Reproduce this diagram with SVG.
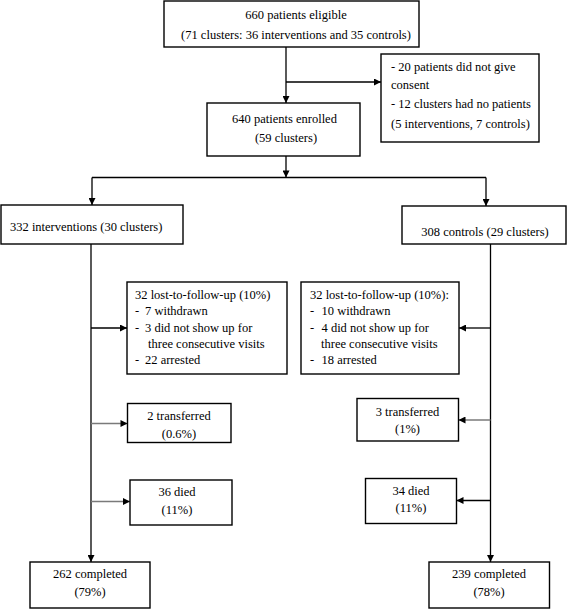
<svg xmlns="http://www.w3.org/2000/svg" width="567" height="609" viewBox="0 0 567 609">
<style>
.box{fill:#fff;stroke:#000;stroke-width:1.4}
.t{font-family:"Liberation Serif","Times New Roman",serif;font-size:12.5px;fill:#000}
.c{text-anchor:middle}
.ln{fill:none;stroke:#000;stroke-width:1.3}
.gr{stroke:#7a7a7a}
</style>
<defs>
<marker id="ah" viewBox="0 0 10 10" refX="10" refY="5" markerWidth="8" markerHeight="7" markerUnits="userSpaceOnUse" orient="auto">
<path d="M0,0 L10,5 L0,10 Z" fill="#000"/>
</marker>
</defs>
<rect width="567" height="609" fill="#fff"/>
<g id="connectors">
<path class="ln" d="M286,47 V103" marker-end="url(#ah)"/>
<path class="ln" d="M286,82 H381" marker-end="url(#ah)"/>
<path class="ln" d="M286,156 V177.5" marker-end="url(#ah)"/>
<path class="ln" d="M92,177.5 H486"/>
<path class="ln" d="M92,177.5 V205" marker-end="url(#ah)"/>
<path class="ln" d="M486,177.5 V206" marker-end="url(#ah)"/>
<path class="ln" d="M91,244 V562" marker-end="url(#ah)"/>
<path class="ln" d="M490.5,244 V562" marker-end="url(#ah)"/>
<path class="ln" d="M91,328 H127" marker-end="url(#ah)"/>
<path class="ln" d="M490.5,328 H459" marker-end="url(#ah)"/>
<path class="ln gr" d="M91,423.5 H127.5" marker-end="url(#ah)"/>
<path class="ln gr" d="M91,501.5 H130" marker-end="url(#ah)"/>
<path class="ln gr" d="M490.5,420 H458.5" marker-end="url(#ah)"/>
<path class="ln" d="M490.5,500.5 H456.5" marker-end="url(#ah)"/>
</g>
<g id="eligible">
<rect class="box" x="164" y="1" width="255" height="46"/>
<text class="t c" x="296" y="19">660 patients eligible</text>
<text class="t c" x="296" y="39">(71 clusters: 36 interventions and 35 controls)</text>
</g>
<g id="excluded">
<rect class="box" x="381" y="54" width="158" height="88"/>
<text class="t" x="391" y="71">- 20 patients did not give</text>
<text class="t" x="391" y="89">consent</text>
<text class="t" x="391" y="108">- 12 clusters had no patients</text>
<text class="t" x="391" y="127.5">(5 interventions, 7 controls)</text>
</g>
<g id="enrolled">
<rect class="box" x="207" y="103" width="153" height="53"/>
<text class="t c" x="284.5" y="123">640 patients enrolled</text>
<text class="t c" x="286" y="142">(59 clusters)</text>
</g>
<g id="interventions">
<rect class="box" x="1" y="205" width="182" height="39"/>
<text class="t" x="10" y="231">332 interventions (30 clusters)</text>
</g>
<g id="controls">
<rect class="box" x="402" y="206" width="164" height="38"/>
<text class="t c" x="485" y="235.5">308 controls (29 clusters)</text>
</g>
<g id="lost-int">
<rect class="box" x="127" y="282" width="160" height="92"/>
<text class="t" x="135" y="299">32 lost-to-follow-up (10%)</text>
<text class="t" x="135" y="315">-</text><text class="t" x="145" y="315">7 withdrawn</text>
<text class="t" x="135" y="331.5">-</text><text class="t" x="145" y="331.5">3 did not show up for</text>
<text class="t" x="148" y="348">three consecutive visits</text>
<text class="t" x="135" y="364">-</text><text class="t" x="145" y="364">22 arrested</text>
</g>
<g id="lost-ctl">
<rect class="box" x="301" y="282" width="158" height="92"/>
<text class="t" x="310" y="299">32 lost-to-follow-up (10%):</text>
<text class="t" x="310" y="315">-</text><text class="t" x="321.5" y="315">10 withdrawn</text>
<text class="t" x="310" y="331.5">-</text><text class="t" x="321.5" y="331.5">4 did not show up for</text>
<text class="t" x="321" y="348">three consecutive visits</text>
<text class="t" x="310" y="364">-</text><text class="t" x="321.5" y="364">18 arrested</text>
</g>
<g id="transferred-int">
<rect class="box" x="127.5" y="403.5" width="103.5" height="39"/>
<text class="t c" x="179" y="420">2 transferred</text>
<text class="t c" x="179" y="437.5">(0.6%)</text>
</g>
<g id="died-int">
<rect class="box" x="130" y="480" width="102" height="45"/>
<text class="t c" x="177" y="496">36 died</text>
<text class="t c" x="177" y="513.5">(11%)</text>
</g>
<g id="completed-int">
<rect class="box" x="30" y="562" width="120" height="46"/>
<text class="t c" x="90" y="578">262 completed</text>
<text class="t c" x="90" y="596">(79%)</text>
</g>
<g id="transferred-ctl">
<rect class="box" x="357" y="398.5" width="101.5" height="42.5"/>
<text class="t c" x="407.5" y="415.5">3 transferred</text>
<text class="t c" x="407.5" y="433">(1%)</text>
</g>
<g id="died-ctl">
<rect class="box" x="365.5" y="478.5" width="91" height="45"/>
<text class="t c" x="411" y="494.5">34 died</text>
<text class="t c" x="411" y="512">(11%)</text>
</g>
<g id="completed-ctl">
<rect class="box" x="429" y="562" width="120.5" height="46"/>
<text class="t c" x="489" y="578">239 completed</text>
<text class="t c" x="489" y="596">(78%)</text>
</g>
</svg>
